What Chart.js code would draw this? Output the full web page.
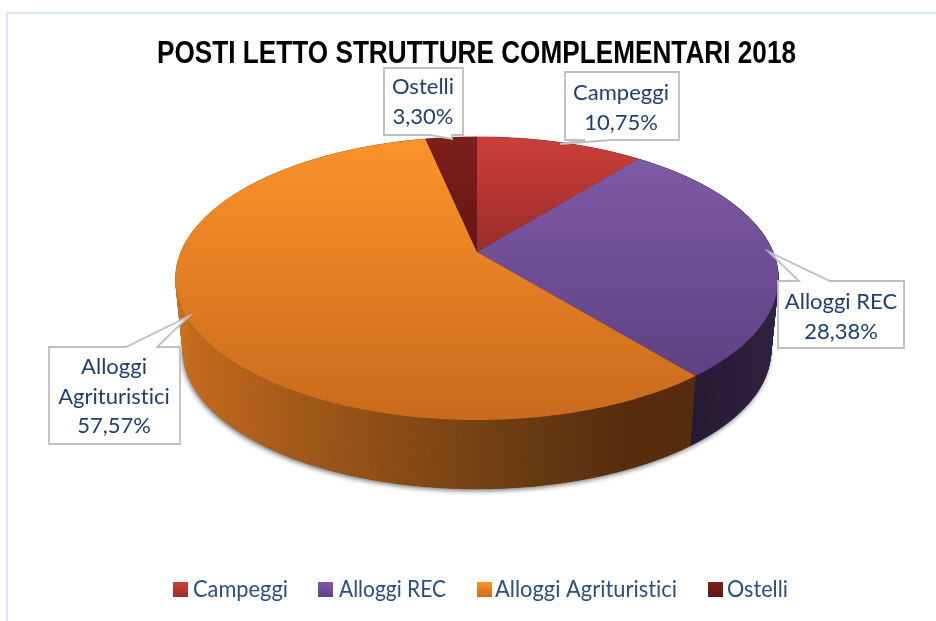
<!DOCTYPE html>
<html><head><meta charset="utf-8">
<style>html,body{margin:0;padding:0;background:#fff}#w{width:936px;height:621px;position:relative}</style>
<script src="https://cdn.jsdelivr.net/npm/chart.js@4/dist/chart.umd.min.js"></script>
</head><body><div id="w"><canvas id="c"></canvas></div>
<script>
const categories = ['Campeggi','Alloggi REC','Alloggi Agrituristici','Ostelli'];
const values = [10.75,28.38,57.57,3.30];
const chartTitle = 'POSTI LETTO STRUTTURE COMPLEMENTARI 2018';

const topStops = [['#CC3F39','#992D29'],['#7F5AA6','#5E4183'],['#FC922A','#C96A1C'],['#7D201C','#621512']];
const wallStops = [
  [[0,'#8A2421'],[1,'#5A1512']],
  [[0,'#231833'],[1,'#2F2141']],
  [[0,'#C86E1F'],[0.2,'#A35A19'],[0.55,'#6E3E13'],[0.75,'#562C0D'],[1,'#552C0E']],
  [[0,'#4A100E'],[1,'#3A0C0A']]
];
const callouts = [
  {box:[565,72,114,68],ptr:[[611,140],[560,144],[585,140]],lines:['Campeggi'],tx:621,base:[100,130]},
  {box:[778,281,126,67],ptr:[[799,281],[769,252],[830,281]],lines:['Alloggi REC'],tx:841,base:[309,339]},
  {box:[49,347,131,97],ptr:[[126,347],[189,316],[157,347]],lines:['Alloggi','Agrituristici'],tx:114,base:[374,404,433]},
  {box:[384,68,79,67],ptr:[[430,135],[452,139],[452,135]],lines:['Ostelli'],tx:423,base:[94,124]}
];
const legendPos = [[173,193,95],[318,339,107],[477,495,182],[708,727,61]];

const FONT = 'Lato, "Open Sans", sans-serif';
const K = 0.187, AX = 1.1746, AY = 0.542;

function project(arc, ang, lower){
  const u = Math.cos(ang), v = Math.sin(ang), w = 1 - K*v, s = lower ? 0.975 : 1;
  const R = arc.outerRadius;
  return [arc.x + s*AX*R*u/w, arc.y + (lower?73:0) + s*AY*R*v/w];
}
function fitText(ctx, text, x, y, width, font, color, align){
  ctx.save();
  ctx.font = font; ctx.fillStyle = color; ctx.textBaseline = 'alphabetic'; ctx.textAlign = align;
  ctx.letterSpacing = '0.01px';
  const m = ctx.measureText(text).width;
  ctx.translate(x,y); ctx.scale(width/m,1);
  ctx.fillText(text,0,0);
  ctx.restore();
}
function pct(v){ return v.toFixed(2).replace('.',',')+'%'; }

const pie3d = {
  id:'pie3d',
  beforeDraw(chart){
    const c = chart.ctx;
    c.save(); c.fillStyle='#fff'; c.fillRect(0,0,chart.width,chart.height);
    c.strokeStyle='#D6E6F7'; c.lineWidth=2; c.strokeRect(7,13,chart.width+20,chart.height+20);
    c.restore();
    fitText(c, chartTitle, 157, 63, 639, 'bold 31px "Liberation Sans"', '#000', 'left');
  },
  beforeDatasetDraw(chart, args){
    const c = chart.ctx, arcs = chart.getDatasetMeta(args.index).data;
    const step = 0.01;
    c.save();
    c.shadowColor='rgba(0,0,0,0.55)'; c.shadowBlur=5; c.shadowOffsetY=2; c.shadowOffsetX=-1;
    c.fillStyle='#5a3010'; c.beginPath();
    for(let a=0;a<Math.PI*2;a+=step){const p=project(arcs[0],a,true); c.lineTo(p[0],p[1]);}
    c.closePath(); c.fill(); c.restore();
    arcs.forEach((arc,i)=>{
      const span = AX*arc.outerRadius;
      const g = i===1 ? c.createLinearGradient(arc.x+0.7*span,0,arc.x+span,0) : c.createLinearGradient(arc.x-span,0,arc.x+span,0);
      wallStops[i].forEach(s=>g.addColorStop(s[0],s[1]));
      c.fillStyle=g; c.strokeStyle=g; c.lineWidth=0.6;
      for(let a=arc.startAngle;a<arc.endAngle-1e-6;a+=step){
        const b=Math.min(a+step,arc.endAngle);
        const p=[project(arc,a,false),project(arc,b,false),project(arc,b,true),project(arc,a,true)];
        c.beginPath(); p.forEach(q=>c.lineTo(q[0],q[1])); c.closePath(); c.fill(); c.stroke();
      }
    });
    arcs.forEach((arc,i)=>{
      const pts=[[arc.x,arc.y]];
      for(let a=arc.startAngle;a<arc.endAngle;a+=step) pts.push(project(arc,a,false));
      pts.push(project(arc,arc.endAngle,false));
      const ys=pts.map(p=>p[1]);
      const g=c.createLinearGradient(0,Math.min(...ys),0,Math.max(...ys));
      g.addColorStop(0,topStops[i][0]); g.addColorStop(1,topStops[i][1]);
      c.fillStyle=g; c.beginPath(); pts.forEach(p=>c.lineTo(p[0],p[1])); c.closePath(); c.fill();
    });
    return false;
  },
  afterDraw(chart){
    const c = chart.ctx, col='#1F3F6E', f='22px '+FONT;
    callouts.forEach((k,i)=>{
      const [x,y,w,h]=k.box, p=k.ptr;
      c.save();
      c.fillStyle='#fff'; c.strokeStyle='#BFBFBF'; c.lineWidth=1.8;
      c.beginPath(); c.moveTo(x,y);
      if(Math.abs(p[0][1]-y)<1){
        c.lineTo(p[0][0],y); c.lineTo(p[1][0],p[1][1]); c.lineTo(p[2][0],y);
        c.lineTo(x+w,y); c.lineTo(x+w,y+h); c.lineTo(x,y+h);
      } else {
        const a=Math.max(p[0][0],p[2][0]), b=Math.min(p[0][0],p[2][0]);
        c.lineTo(x+w,y); c.lineTo(x+w,y+h);
        c.lineTo(a,y+h); c.lineTo(p[1][0],p[1][1]); c.lineTo(b,y+h); c.lineTo(x,y+h);
      }
      c.closePath(); c.fill(); c.stroke(); c.restore();
      k.lines.concat([pct(values[i])]).forEach((t,j)=>{
        c.save(); c.font=f; c.letterSpacing='0.01px'; c.fillStyle=col; c.textAlign='center'; c.textBaseline='alphabetic';
        c.fillText(t,k.tx,k.base[j]); c.restore();
      });
    });
    categories.forEach((name,i)=>{
      const [bx,tx,tw]=legendPos[i];
      const g=c.createLinearGradient(0,582,0,597);
      g.addColorStop(0,topStops[i][0]); g.addColorStop(1,topStops[i][1]);
      c.fillStyle=g; c.fillRect(bx,582,15,15);
      fitText(c,name,tx,597,tw,'24px '+FONT,'#2A5082','left');
    });
  }
};

new Chart(document.getElementById('c'),{
  type:'pie',
  data:{labels:categories,datasets:[{data:values,backgroundColor:topStops.map(s=>s[0]),borderWidth:0}]},
  options:{
    responsive:true,maintainAspectRatio:false,animation:false,
    layout:{padding:{left:18,right:0,top:0,bottom:117}},
    plugins:{legend:{display:false},title:{display:false},tooltip:{enabled:false}}
  },
  plugins:[pie3d]
});
</script></body></html>
